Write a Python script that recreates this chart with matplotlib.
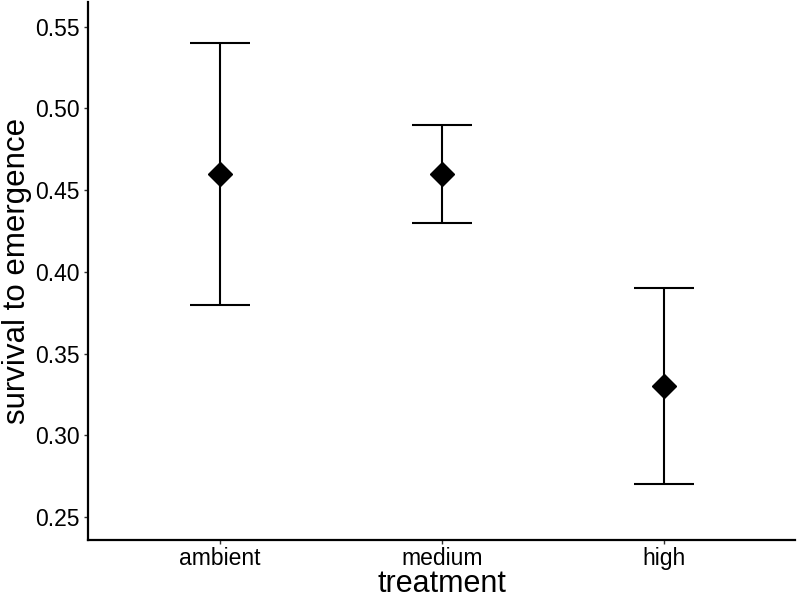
import numpy as np
import matplotlib
matplotlib.use("Agg")
import matplotlib.pyplot as plt

plt.rcParams['font.family'] = ['Liberation Sans', 'DejaVu Sans']

# survival to emergence per treatment
treatment = ["ambient", "medium", "high"]
survival = [0.46, 0.46, 0.33]
lower = [0.38, 0.43, 0.27]
upper = [0.54, 0.49, 0.39]

x = np.arange(1, len(treatment) + 1)
mean = np.array(survival)
err = [mean - np.array(lower), np.array(upper) - mean]

fig = plt.figure(figsize=(8, 6), dpi=100)
ax = fig.add_axes([0.11, 0.10, 0.884, 0.897])

ax.errorbar(x, mean, yerr=err, fmt='none', ecolor='black',
            elinewidth=1.5, capsize=21.5, capthick=1.5)
ax.plot(x, mean, 'D', color='black', markersize=12.5)

ax.set_xlim(0.405, 3.59)
ax.set_ylim(0.2359, 0.5653)
ax.set_xticks(x)
ax.set_xticklabels(treatment)
ax.set_yticks([0.25, 0.30, 0.35, 0.40, 0.45, 0.50, 0.55])
ax.set_yticklabels(["0.25", "0.30", "0.35", "0.40", "0.45", "0.50", "0.55"])

ax.set_xlabel("treatment", fontsize=22, labelpad=-1)
ax.set_ylabel("survival to emergence", fontsize=22.5, labelpad=2)

for s in ["top", "right"]:
    ax.spines[s].set_visible(False)
for s in ["left", "bottom"]:
    ax.spines[s].set_linewidth(1.6)
ax.tick_params(axis='both', labelsize=16.5, length=3, width=1, color='#333333',
               labelcolor='black', pad=3)
ax.tick_params(axis='x', pad=2)

plt.savefig("out.png", dpi=100)
